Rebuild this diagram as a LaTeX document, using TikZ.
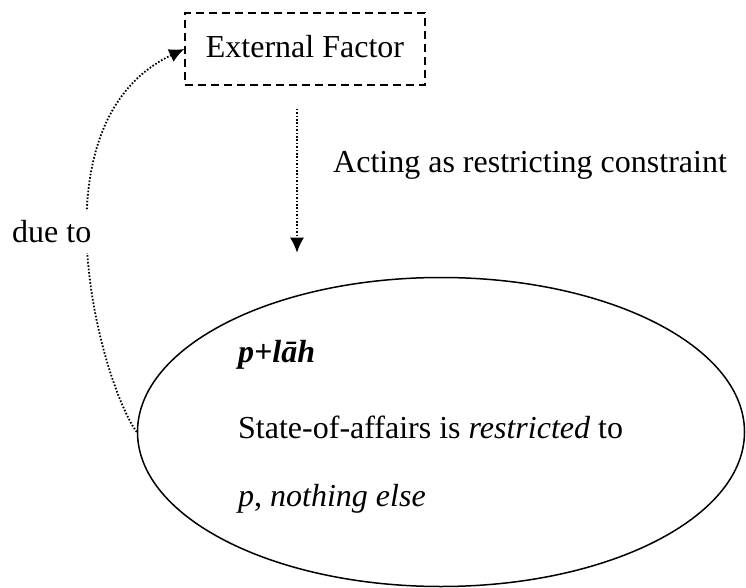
\documentclass[tikz,border=0pt]{standalone}
\usepackage{fontspec}
\setmainfont{Liberation Serif}
\usetikzlibrary{arrows.meta,shapes.geometric}
\tikzset{
  dotline/.style={line width=1.8pt, dash pattern=on 1.6pt off 1.8pt, -{Latex[length=15pt,width=14pt]}},
  txt/.style={font=\fontsize{32}{38}\selectfont, inner sep=0pt}
}
\begin{document}
\begin{tikzpicture}[x=1pt,y=1pt]
                \useasboundingbox (0,0) rectangle (746,587);
                \node [draw=black, line width=1.6pt, dash pattern=on 8pt off 5pt, minimum width=240pt, minimum height=72pt] (ext) at (305,538) {};
                \node [txt] (extlbl) at (305,540) {External Factor};
                \node [ellipse, draw=black, line width=1.5pt, minimum width=607pt, minimum height=309pt] (state) at (441,155) {};
                
                \draw[dotline, shorten <=23pt, shorten >=24pt] (ext.south -| 297,0) -- (state.north -| 297,0);
                \node [txt, anchor=base west] (acting) at (333,414) {Acting as restricting constraint};
                
                \draw[dotline] (state.west) .. controls (103,200) and (27,463) .. (ext.west);
                \node [txt, fill=white, inner xsep=3pt, inner ysep=10pt, anchor=base west] (due) at (9,344) {due to};
                
                \node [txt, anchor=base west] (plah) at (238,225) {\textbf{\textit{p+lāh}}};
                \node [txt, anchor=base west] (soa) at (238,149) {State-of-affairs is \textit{restricted} to};
                \node [txt, anchor=base west] (pelse) at (238,81) {\textit{p}, \textit{nothing else}};
            \end{tikzpicture}
\end{document}
